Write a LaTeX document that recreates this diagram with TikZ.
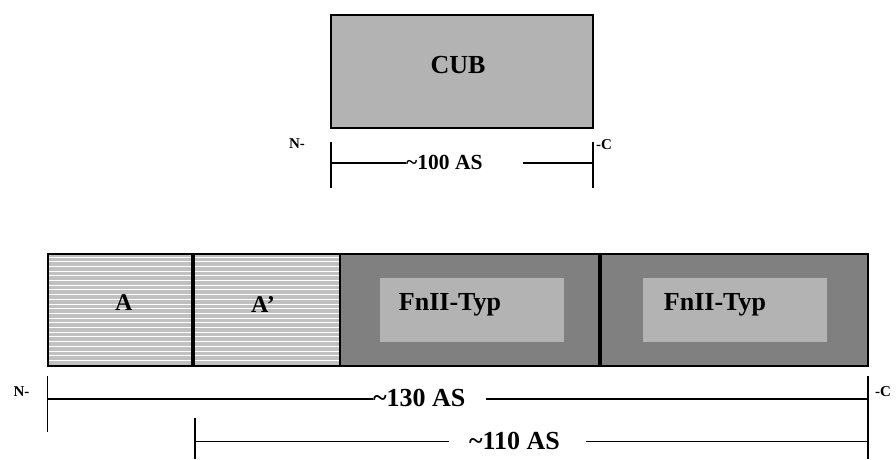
\documentclass[tikz,border=0pt]{standalone}
\usepackage{fontspec}
\setmainfont{Liberation Serif}
\definecolor{lightg}{HTML}{B3B3B3}
\definecolor{darkg}{HTML}{808080}
\definecolor{hatchg}{HTML}{C0C0C0}
\newcommand{\tld}{{\char"7E}}
\begin{document}
\begin{tikzpicture}[x=1pt,y=-1pt,
  seg/.style={draw=black,line width=2pt,inner sep=0pt,outer sep=0pt,minimum height=112pt},
  inner/.style={fill=lightg,inner sep=0pt,outer sep=0pt,minimum width=184pt,minimum height=64pt},
  big/.style={font=\bfseries\fontsize{26}{26}\selectfont,inner sep=0pt},
  mid/.style={font=\bfseries\fontsize{24}{24}\selectfont,inner sep=0pt},
  dimbig/.style={font=\bfseries\fontsize{26}{26}\selectfont,inner sep=0pt},
  dimtxt/.style={font=\bfseries\fontsize{21.5}{21.5}\selectfont,inner sep=0pt},
  small/.style={font=\bfseries\fontsize{15}{15}\selectfont,inner sep=0pt},
  dimline/.style={line width=1.8pt},
  divider/.style={line width=3.5pt}]
\useasboundingbox (0,0) rectangle (896,459);

% CUB domain
\node[seg,fill=lightg,minimum width=262pt,minimum height=113pt] (cub) at (462,71.5) {};
\node[big] (cubtxt) at (458,65) {CUB};

% bottom bar
\node[seg,fill=hatchg,minimum width=145pt] (a) at (120.5,310) {};
\node[seg,fill=hatchg,minimum width=147pt] (ap) at (266.5,310) {};
\foreach \yy in {257,261.7,...,364} {
  \draw[white,line width=0.9pt] (49,\yy) -- (339,\yy);
}
\node[seg,fill=darkg,minimum width=260pt] (f1) at (470,310) {};
\node[seg,fill=darkg,minimum width=268pt] (f2) at (734,310) {};
\draw[line width=2pt] (a.north west) rectangle (ap.south east);
\draw[divider] (a.north east) -- (a.south east);
\draw[divider] (f1.north east) -- (f1.south east);
\draw[line width=2pt] (f1.north west) -- (f1.south west);
\node[inner] (i1) at (472,310) {};
\node[inner] (i2) at (735,310) {};
\node[mid] (atxt) at (123.8,303) {A};
\node[mid] (aptxt) at (263,305) {A’};
\node[big] (f1txt) at (450,305) {FnII-Typ};
\node[big] (f2txt) at (715,305) {FnII-Typ};

% top dimension
\coordinate (t1a) at (331,142);
\coordinate (t1b) at (331,188);
\coordinate (t2a) at (593,142);
\coordinate (t2b) at (593,188);
\coordinate (h1l) at (331,163);
\coordinate (h1r) at (523,163);
\coordinate (h1e) at (593,163);
\draw[dimline] (t1a) -- (t1b);
\draw[dimline] (t2a) -- (t2b);
\node[dimtxt,anchor=west] (d100) at (406,162) {\tld100 AS};
\draw[dimline] (h1l) -- (h1l -| d100.west);
\draw[dimline] (h1r) -- (h1e);
\node[small] (n1) at (297,144) {N-};
\node[small] (c1) at (604,145) {-C};

% bottom dimensions
\coordinate (b1a) at (47.5,376);
\coordinate (b1b) at (47.5,432);
\coordinate (b2a) at (868,376);
\coordinate (b2b) at (868,432);
\coordinate (h2l) at (47.5,399);
\coordinate (h2r) at (486,399);
\coordinate (h2e) at (868,399);
\draw[dimline] (b1a) -- (b1b);
\draw[dimline] (b2a) -- (b2b);
\node[dimbig,anchor=west] (d130) at (373,398) {\tld130 AS};
\draw[dimline] (h2l) -- (h2l -| d130.west);
\draw[dimline] (h2r) -- (h2e);
\node[small] (n2) at (21.5,392) {N-};
\node[small] (c2) at (883,392) {-C};

\coordinate (b3a) at (195,418);
\coordinate (b3b) at (195,459);
\coordinate (b4a) at (868,418);
\coordinate (b4b) at (868,459);
\coordinate (h3l) at (195,441.5);
\coordinate (h3m) at (449,441.5);
\coordinate (h3r) at (586,441.5);
\coordinate (h3e) at (868,441.5);
\draw[dimline] (b3a) -- (b3b);
\draw[dimline] (b4a) -- (b4b);
\node[dimbig] (d110) at (514.5,441) {\tld110 AS};
\draw[dimline] (h3l) -- (h3m);
\draw[dimline] (h3r) -- (h3e);
\end{tikzpicture}
\end{document}
